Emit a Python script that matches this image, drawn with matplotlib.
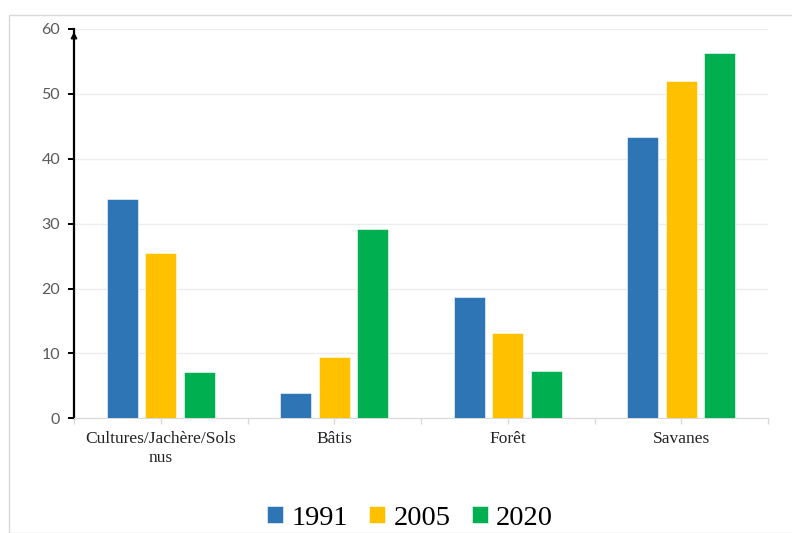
import numpy as np
import matplotlib.pyplot as plt
from matplotlib.patches import Rectangle

# Données
categories = ['Cultures/Jachère/Sols\nnus', 'Bâtis', 'Forêt', 'Savanes']
annees = ['1991', '2005', '2020']
v1991 = [33.8, 3.9, 18.7, 43.4]
v2005 = [25.5, 9.4, 13.1, 52.0]
v2020 = [7.1, 29.1, 7.3, 56.3]
couleurs = ['#2E75B6', '#FFC000', '#00B050']

fig = plt.figure(figsize=(7.92, 5.33), dpi=100)
# cadre gris clair autour du graphique
fig.patches.append(Rectangle((9 / 792, 0), 1.0, 1 - 15 / 533, transform=fig.transFigure,
                             fill=False, edgecolor='#D9D9D9', lw=1.0))

ax = fig.add_axes([74 / 792, 1 - 418.3 / 533, (768 - 74) / 792, (418.3 - 29) / 533])

x = np.arange(len(categories))
w = 0.178
pas = 0.222
series = [v1991, v2005, v2020]
for i, (vals, c, lab) in enumerate(zip(series, couleurs, annees)):
    ax.bar(x + (i - 1) * pas, vals, width=w, color=c, label=lab,
           edgecolor='white', linewidth=0.4, zorder=3)

ax.set_xlim(-0.5, len(categories) - 0.5)
ax.set_ylim(0, 60)
ax.set_yticks(range(0, 61, 10))
ax.grid(axis='y', color='#EDEDED', lw=1.0, zorder=0)

for s in ['top', 'right']:
    ax.spines[s].set_visible(False)
ax.spines['bottom'].set_color('#D9D9D9')
ax.spines['left'].set_color('black')
ax.spines['left'].set_linewidth(1.6)

# flèche en haut de l'axe y
ax.annotate('', xy=(0, 1.0), xytext=(0, 0.97), xycoords='axes fraction',
            arrowprops=dict(arrowstyle='-|>', color='black', lw=1.2, mutation_scale=9))

ax.tick_params(axis='y', colors='black', length=4, width=1.4, labelcolor='#595959',
               labelsize=11.5, pad=6)
for t in ax.get_yticklabels():
    t.set_family('Lato')

ax.set_xticks(x)
ax.set_xticklabels(categories, family='Liberation Serif', fontsize=12.5, color='#222222',
                   linespacing=1.25)
ax.set_xticks(np.arange(-0.5, len(categories), 1.0), minor=True)
ax.tick_params(axis='x', which='both', color='#D9D9D9', length=4, width=1.0, pad=5)

leg = fig.legend(loc='center', bbox_to_anchor=(0.518, 0.028), ncol=3, frameon=False,
                 prop={'family': 'Liberation Serif', 'size': 20.5},
                 handlelength=0.55, handleheight=0.55, handletextpad=0.3,
                 columnspacing=0.75)

fig.savefig('out.png', dpi=100)
